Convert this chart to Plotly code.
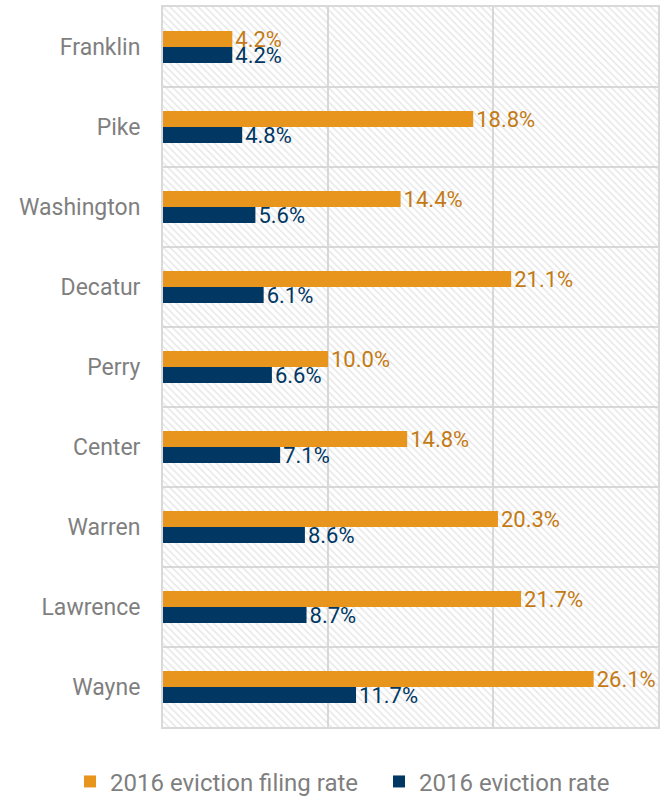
import plotly.graph_objects as go

townships = ["Franklin", "Pike", "Washington", "Decatur", "Perry", "Center", "Warren", "Lawrence", "Wayne"]
filing_rate = [4.2, 18.8, 14.4, 21.1, 10.0, 14.8, 20.3, 21.7, 26.1]
eviction_rate = [4.2, 4.8, 5.6, 6.1, 6.6, 7.1, 8.6, 8.7, 11.7]
series_names = ["2016 eviction filing rate", "2016 eviction rate"]
x_max = 30

FONT = "Roboto, sans-serif"
ORANGE = "#E8951E"
NAVY = "#003763"

fig = go.Figure()

# hatched background band per category
fig.add_trace(go.Bar(
    y=townships, x=[x_max] * len(townships), orientation="h",
    width=1, offset=-0.5, showlegend=False, hoverinfo="skip",
    marker=dict(color="rgba(0,0,0,0)", line=dict(width=0),
                pattern=dict(shape="\\", fgcolor="#cfcfcf", bgcolor="rgba(0,0,0,0)",
                             size=5, solidity=0.3)),
))

fig.add_trace(go.Bar(
    y=townships, x=filing_rate, orientation="h", name=series_names[0],
    width=0.2, offset=-0.2, marker=dict(color=ORANGE, line=dict(width=0)),
    text=[f"{v:.1f}%" for v in filing_rate], textposition="outside",
    constraintext="none", legend="legend",
    textfont=dict(color="#C47A14", size=22, family=FONT), cliponaxis=False,
))
fig.add_trace(go.Bar(
    y=townships, x=eviction_rate, orientation="h", name=series_names[1],
    width=0.2, offset=0.0, marker=dict(color=NAVY, line=dict(width=0)),
    text=[f"{v:.1f}%" for v in eviction_rate], textposition="outside",
    constraintext="none", legend="legend2",
    textfont=dict(color=NAVY, size=22, family=FONT), cliponaxis=False,
))

legend_common = dict(orientation="h", xref="container", yref="container",
                     xanchor="left", yanchor="middle", y=0.019,
                     font=dict(size=24, color="#7f7f7f"), bgcolor="rgba(0,0,0,0)")

fig.update_layout(
    width=670, height=797,
    margin=dict(l=163, r=12, t=7, b=70, autoexpand=False),
    barmode="overlay",
    plot_bgcolor="white", paper_bgcolor="white",
    font=dict(family=FONT, color="#7f7f7f", size=23),
    legend=dict(legend_common, x=70 / 670),
    legend2=dict(legend_common, x=379 / 670),
)
fig.update_xaxes(range=[0, x_max], dtick=10, showticklabels=False,
                 showgrid=True, gridcolor="#d9d9d9", gridwidth=2,
                 showline=True, linecolor="#d9d9d9", linewidth=2, mirror=True,
                 zeroline=False)
fig.update_yaxes(autorange="reversed", tickson="boundaries", showgrid=True,
                 gridcolor="#d9d9d9", gridwidth=2, ticks="", ticklabelstandoff=16,
                 showline=True, linecolor="#d9d9d9", linewidth=2, mirror=True,
                 tickfont=dict(size=23, color="#7f7f7f"))

fig.write_html("out.html", config={"displayModeBar": False},
               post_script="document.body.style.margin='0';")
